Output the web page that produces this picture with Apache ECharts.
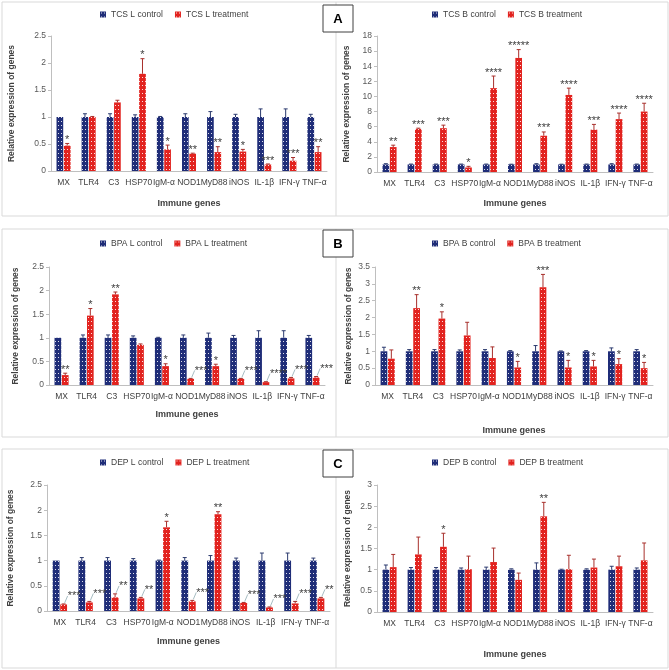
<!DOCTYPE html>
<html>
<head>
<meta charset="utf-8">
<script src="https://cdn.jsdelivr.net/npm/echarts@6/dist/echarts.min.js"></script>
<style>html,body{margin:0;padding:0;background:#fff;}#c{width:669px;height:670px;}</style>
</head>
<body>
<div id="c"></div>
<script>
const categories = ['MX','TLR4','C3','HSP70','IgM-α','NOD1','MyD88','iNOS','IL-1β','IFN-γ','TNF-α'];

// Panel A – TCS
const tcsLControl    = [1,1,1,1,1,1,1,1,1,1,1];
const tcsLControlErr = [0,0.06,0.06,0.04,0.01,0.06,0.1,0.05,0.15,0.15,0.05];
const tcsLTreat      = [0.47,1.0,1.27,1.8,0.4,0.32,0.35,0.36,0.12,0.19,0.35];
const tcsLTreatErr   = [0.04,0.01,0.04,0.28,0.08,0.01,0.1,0.04,0.01,0.06,0.1];
const tcsLSig        = ['*','','','*','*','**','**','*','***','***','**'];
const tcsLLeader     = [0,0,0,0,0,0,0,0,0,0,0];

const tcsBControl    = [1,1,1,1,1,1,1,1,1,1,1];
const tcsBControlErr = [0.1,0.05,0.05,0.05,0.05,0.03,0.1,0.03,0.05,0.1,0.05];
const tcsBTreat      = [3.3,5.7,5.8,0.6,11.1,15.1,4.8,10.2,5.6,7.0,8.0];
const tcsBTreatErr   = [0.25,0.1,0.4,0.15,1.6,1.1,0.5,0.9,0.7,0.8,1.1];
const tcsBSig        = ['**','***','***','*','****','*****','***','****','***','****','****'];
const tcsBLeader     = [0,0,0,0,0,0,0,0,0,0,0];

// Panel B – BPA
const bpaLControl    = [1,1,1,1,1,1,1,1,1,1,1];
const bpaLControlErr = [0,0.06,0.06,0.04,0.01,0.06,0.1,0.05,0.15,0.15,0.05];
const bpaLTreat      = [0.21,1.47,1.92,0.85,0.4,0.13,0.4,0.13,0.06,0.14,0.16];
const bpaLTreatErr   = [0.04,0.15,0.05,0.02,0.05,0.01,0.04,0.01,0.01,0.02,0.02];
const bpaLSig        = ['**','*','**','','*','***','*','***','****','***','***'];
const bpaLLeader     = [0,0,0,0,0,1,0,1,1,1,1];

const bpaBControl    = [1,1,1,1,1,1,1,1,1,1,1];
const bpaBControlErr = [0.12,0.05,0.05,0.04,0.05,0.02,0.17,0.01,0.02,0.1,0.05];
const bpaBTreat      = [0.78,2.28,1.97,1.47,0.8,0.52,2.9,0.52,0.55,0.62,0.5];
const bpaBTreatErr   = [0.26,0.4,0.2,0.39,0.33,0.18,0.38,0.21,0.18,0.16,0.17];
const bpaBSig        = ['','**','*','','','*','***','*','*','*','*'];
const bpaBLeader     = [0,0,0,0,0,0,0,0,0,0,0];

// Panel C – DEP
const depLControl    = [1,1,1,1,1,1,1,1,1,1,1];
const depLControlErr = [0,0.06,0.06,0.04,0.01,0.06,0.1,0.05,0.15,0.15,0.05];
const depLTreat      = [0.13,0.17,0.27,0.25,1.66,0.19,1.92,0.16,0.07,0.15,0.25];
const depLTreatErr   = [0.01,0.02,0.07,0.02,0.12,0.02,0.05,0.01,0.01,0.04,0.02];
const depLSig        = ['***','***','**','**','*','***','**','***','***','***','**'];
const depLLeader     = [1,1,1,1,0,1,0,1,1,1,1];

const depBControl    = [1,1,1,1,1,1,1,1,1,1,1];
const depBControlErr = [0.11,0.05,0.05,0.04,0.06,0.02,0.16,0.01,0.02,0.08,0.04];
const depBTreat      = [1.06,1.36,1.54,1.01,1.18,0.76,2.26,1.01,1.05,1.08,1.22];
const depBTreatErr   = [0.3,0.41,0.32,0.31,0.33,0.16,0.33,0.33,0.2,0.24,0.41];
const depBSig        = ['','','*','','','','**','','','',''];
const depBLeader     = [0,0,0,0,0,0,0,0,0,0,0];

// y-axis scales
const yMax      = [2.5, 18, 2.5, 3.5, 2.5, 3];
const yInterval = [0.5, 2, 0.5, 0.5, 0.5, 0.5];

const panels = [
  {names:['TCS L control','TCS L treatment'], c:tcsLControl, ce:tcsLControlErr, t:tcsLTreat, te:tcsLTreatErr, sig:tcsLSig, lead:tcsLLeader},
  {names:['TCS B control','TCS B treatment'], c:tcsBControl, ce:tcsBControlErr, t:tcsBTreat, te:tcsBTreatErr, sig:tcsBSig, lead:tcsBLeader},
  {names:['BPA L control','BPA L treatment'], c:bpaLControl, ce:bpaLControlErr, t:bpaLTreat, te:bpaLTreatErr, sig:bpaLSig, lead:bpaLLeader},
  {names:['BPA B control','BPA B treatment'], c:bpaBControl, ce:bpaBControlErr, t:bpaBTreat, te:bpaBTreatErr, sig:bpaBSig, lead:bpaBLeader},
  {names:['DEP L control','DEP L treatment'], c:depLControl, ce:depLControlErr, t:depLTreat, te:depLTreatErr, sig:depLSig, lead:depLLeader},
  {names:['DEP B control','DEP B treatment'], c:depBControl, ce:depBControlErr, t:depBTreat, te:depBTreatErr, sig:depBSig, lead:depBLeader}
];

// layout (px)
const grids = [
  {left:51,  top:36,  width:276, height:135},
  {left:377, top:36,  width:276, height:136},
  {left:49,  top:267, width:276, height:118},
  {left:375, top:267, width:278, height:118},
  {left:47,  top:485, width:283, height:126},
  {left:377, top:485, width:276, height:127}
];
const legendPos = [{left:100,top:10},{left:432,top:10},{left:100,top:239},{left:432,top:239},{left:100,top:458},{left:432,top:458}];
const yNameGap = [35, 26, 29, 22, 32, 25];
const xNameGap = [28, 27, 25, 41, 26, 38];

const NAVY = '#1f2d78', RED = '#e2231f';
function pattern(base){
  const c = document.createElement('canvas'); c.width = 3; c.height = 4;
  const x = c.getContext('2d');
  x.fillStyle = base; x.fillRect(0,0,3,4);
  x.fillStyle = 'rgba(255,255,255,0.85)'; x.fillRect(1,1,1,1);
  return {image:c, repeat:'repeat'};
}
const navyPat = pattern(NAVY), redPat = pattern(RED);

const FONT = 'Liberation Sans';
const CAT_GAP = 0.44, BAR_GAP = 0.1;

const option = {
  animation:false,
  textStyle:{fontFamily:FONT},
  grid:[], xAxis:[], yAxis:[], legend:[], series:[],
  graphic:[]
};

panels.forEach((p, i) => {
  option.grid.push(Object.assign({containLabel:false}, grids[i]));
  option.xAxis.push({
    type:'category', gridIndex:i, data:categories,
    name:'Immune genes', nameLocation:'middle', nameGap:xNameGap[i],
    nameTextStyle:{fontSize:9, fontWeight:'bold', color:'#404040', fontFamily:FONT},
    axisLine:{lineStyle:{color:'#bfbfbf'}}, axisTick:{show:false},
    axisLabel:{interval:0, fontSize:8.5, color:'#404040', margin:7, fontFamily:FONT}
  });
  option.yAxis.push({
    type:'value', gridIndex:i, min:0, max:yMax[i], interval:yInterval[i],
    name:'Relative expression of genes', nameLocation:'middle', nameGap:yNameGap[i],
    nameTextStyle:{fontSize:8.5, fontWeight:'bold', color:'#404040', fontFamily:FONT},
    axisLine:{show:true, lineStyle:{color:'#bfbfbf'}},
    axisTick:{show:true, length:3, lineStyle:{color:'#bfbfbf'}},
    splitLine:{show:false},
    axisLabel:{fontSize:8.5, color:'#595959', margin:5, fontFamily:FONT}
  });
  option.legend.push(Object.assign({
    data:p.names, itemWidth:6, itemHeight:6, itemGap:12, icon:'rect',
    textStyle:{fontSize:8.5, color:'#404040', fontFamily:FONT}, padding:0
  }, legendPos[i]));
  option.series.push({
    type:'bar', name:p.names[0], xAxisIndex:i, yAxisIndex:i, data:p.c,
    itemStyle:{color:navyPat}, barCategoryGap:(CAT_GAP*100)+'%', barGap:(BAR_GAP*100)+'%'
  });
  option.series.push({
    type:'bar', name:p.names[1], xAxisIndex:i, yAxisIndex:i, data:p.t,
    itemStyle:{color:redPat}, barCategoryGap:(CAT_GAP*100)+'%', barGap:(BAR_GAP*100)+'%'
  });
  // error bars + significance marks
  const errData = [];
  categories.forEach((_, k) => {
    errData.push([k, p.c[k] + p.ce[k], p.c[k], 0]);
    errData.push([k, p.t[k] + p.te[k], p.t[k], 1]);
  });
  option.series.push({
    type:'custom', xAxisIndex:i, yAxisIndex:i, data:errData, z:5, silent:true,
    renderItem:function(params, api){
      const k = api.value(0), top = api.value(1), val = api.value(2), s = api.value(3);
      const band = api.size([1,0])[0];
      const usable = band*(1-CAT_GAP);
      const bw = usable/(2+BAR_GAP);
      const off = usable/2 - bw/2;
      const cx = api.coord([k,0])[0] + (s===0 ? -off : off);
      const yT = api.coord([k,top])[1], yV = api.coord([k,val])[1];
      const col = s===0 ? '#2b3a6e' : '#a8302c';
      const children = [];
      if (top > val) {
        children.push({type:'line', shape:{x1:cx,y1:yV,x2:cx,y2:yT}, style:{stroke:col, lineWidth:1}});
        children.push({type:'line', shape:{x1:cx-2,y1:yT,x2:cx+2,y2:yT}, style:{stroke:col, lineWidth:1}});
      }
      if (s===1) {
        const txt = p.sig[k];
        if (txt) {
          if (p.lead[k]) {
            const tx = cx+4, ty = yT-9;
            children.push({type:'line', shape:{x1:cx+1,y1:yT-1,x2:tx,y2:ty+1}, style:{stroke:'#7f9fa8', lineWidth:0.7}});
            children.push({type:'text', style:{text:txt, x:tx, y:ty-4, align:'left', verticalAlign:'top', fontSize:11, fill:'#404040', fontFamily:FONT}});
          } else {
            children.push({type:'text', style:{text:txt, x:cx, y:yT-9, align:'center', verticalAlign:'top', fontSize:11, fill:'#404040', fontFamily:FONT}});
          }
        }
      }
      return {type:'group', children:children};
    }
  });
});

// panel frames and letter boxes
const frameCol = '#d9d9d9';
[[2,2,666,214],[2,229,666,208],[2,449,666,219]].forEach((r, j) => {
  option.graphic.push({type:'rect', shape:{x:r[0], y:r[1], width:r[2], height:r[3]}, style:{fill:'none', stroke:frameCol, lineWidth:1}, z:0, silent:true});
  option.graphic.push({type:'line', shape:{x1:336, y1:r[1], x2:336, y2:r[1]+r[3]}, style:{stroke:frameCol, lineWidth:1}, z:0, silent:true});
});
[['A',5],['B',230],['C',450]].forEach(b => {
  option.graphic.push({type:'rect', shape:{x:323, y:b[1], width:30, height:27}, style:{fill:'#fff', stroke:'#404040', lineWidth:1}, z:10, silent:true});
  option.graphic.push({type:'text', style:{text:b[0], x:338, y:b[1]+14, align:'center', verticalAlign:'middle', fontSize:13, fontWeight:'bold', fill:'#000', fontFamily:FONT}, z:11, silent:true});
});

const chart = echarts.init(document.getElementById('c'), null, {renderer:'canvas'});
chart.setOption(option);
</script>
</body>
</html>
